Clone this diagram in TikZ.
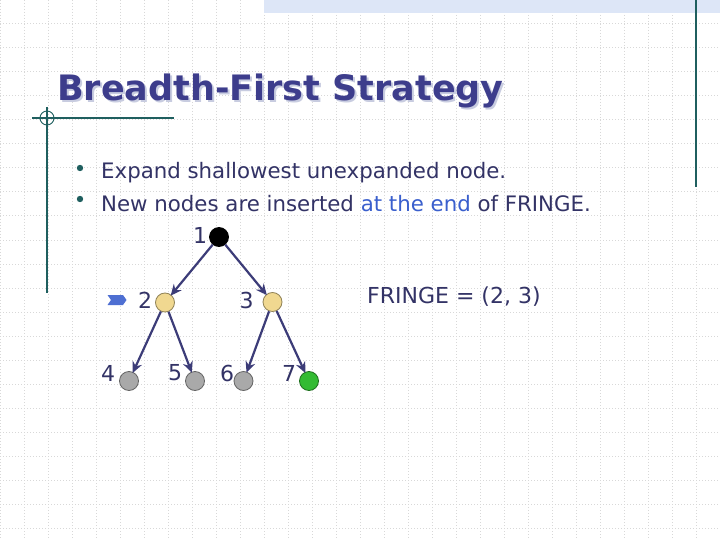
\documentclass[tikz,border=0pt]{standalone}
\usepackage{fontspec}
\setmainfont{DejaVu Sans}
\usetikzlibrary{arrows.meta,shapes.symbols}
\definecolor{txt}{HTML}{333366}
\definecolor{ttl}{HTML}{3D3D8C}
\definecolor{shd}{HTML}{C8CCE0}
\definecolor{teal}{HTML}{1F5F5F}
\definecolor{hl}{HTML}{3A5FCD}
\definecolor{band}{HTML}{DDE6F7}
\definecolor{gridc}{HTML}{D8D8D8}
\definecolor{arr}{HTML}{3C3C78}
\definecolor{yel}{HTML}{F0D890}
\definecolor{gry}{HTML}{A9A9A9}
\definecolor{grn}{HTML}{33BB33}
\newcommand{\shadowtext}[1]{\rlap{\hspace{2pt}\raisebox{-2pt}{\textcolor{shd}{#1}}}#1}
\tikzset{
  gridline/.style={gridc, line width=1pt, dash pattern=on 1pt off 2pt},
  frame/.style={teal, line width=1.3pt},
  tnode/.style={circle, draw=#1!60!black, line width=0.8pt, fill=#1, minimum size=19pt, inner sep=0pt},
  lbl/.style={txt, font=\fontsize{22}{24}\selectfont, inner sep=0pt},
  body/.style={txt, font=\fontsize{21.3}{24}\selectfont, inner sep=0pt, anchor=west},
  edge/.style={arr, line width=2.2pt, -{Stealth[length=11pt,width=10pt]}, shorten >=-1pt},
}
\begin{document}
\begin{tikzpicture}[x=1pt,y=-1pt]
\useasboundingbox (0,0) rectangle (720,540);
\fill[white] (0,0) rectangle (720,540);
\foreach \i in {0,24,...,720} \draw[gridline] (\i,0) -- (\i,540);
\foreach \j in {24,48,...,540} \draw[gridline] (0,\j) -- (720,\j);
\fill[band] (264,0) rectangle (720,13);
\draw[frame] (696,0) -- (696,187);
\draw[frame] (47,107) -- (47,293);
\draw[frame] (32,118) -- (174,118);
\draw[teal, line width=0.9pt] (47,118) circle (7);
% title
\node[anchor=base west, inner sep=0pt, ttl, font=\fontsize{35}{38}\selectfont\bfseries] (title) at (57,101) {\shadowtext{Breadth-First Strategy}};
% bullets
\fill[teal] (80,168) circle (3.2);
\fill[teal] (80,199) circle (3.2);
\node[body] (b1) at (101,173) {Expand shallowest unexpanded node.};
\node[body] (b2) at (101,204) {New nodes are inserted \textcolor{hl}{at the end} of FRINGE.};
% tree
\node[tnode=black] (n1) at (219,237) {};
\node[tnode=yel] (n2) at (165,302.5) {};
\node[tnode=yel] (n3) at (272.5,302) {};
\node[tnode=gry] (n4) at (129,381) {};
\node[tnode=gry] (n5) at (195,381) {};
\node[tnode=gry] (n6) at (243.5,381) {};
\node[tnode=grn] (n7) at (309,381) {};
\node[lbl] (l1) at (200,235) {1};
\node[lbl] (l2) at (145,300) {2};
\node[lbl] (l3) at (246.5,300) {3};
\node[lbl] (l4) at (108,373) {4};
\node[lbl] (l5) at (175,373) {5};
\node[lbl] (l6) at (227,373) {6};
\node[lbl] (l7) at (289,373) {7};
\draw[edge] (n1) -- (n2);
\draw[edge] (n1) -- (n3);
\draw[edge] (n2) -- (n4);
\draw[edge] (n2) -- (n5);
\draw[edge] (n3) -- (n6);
\draw[edge] (n3) -- (n7);
\node[signal, signal to=east, signal from=west, fill=hl!90!white, minimum width=19pt, minimum height=10pt, inner sep=0pt, signal pointer angle=110] (mark) at (117,300) {};
\node[body, font=\fontsize{22}{24}\selectfont] (fr) at (367,297) {FRINGE = (2, 3)};
\end{tikzpicture}
\end{document}
